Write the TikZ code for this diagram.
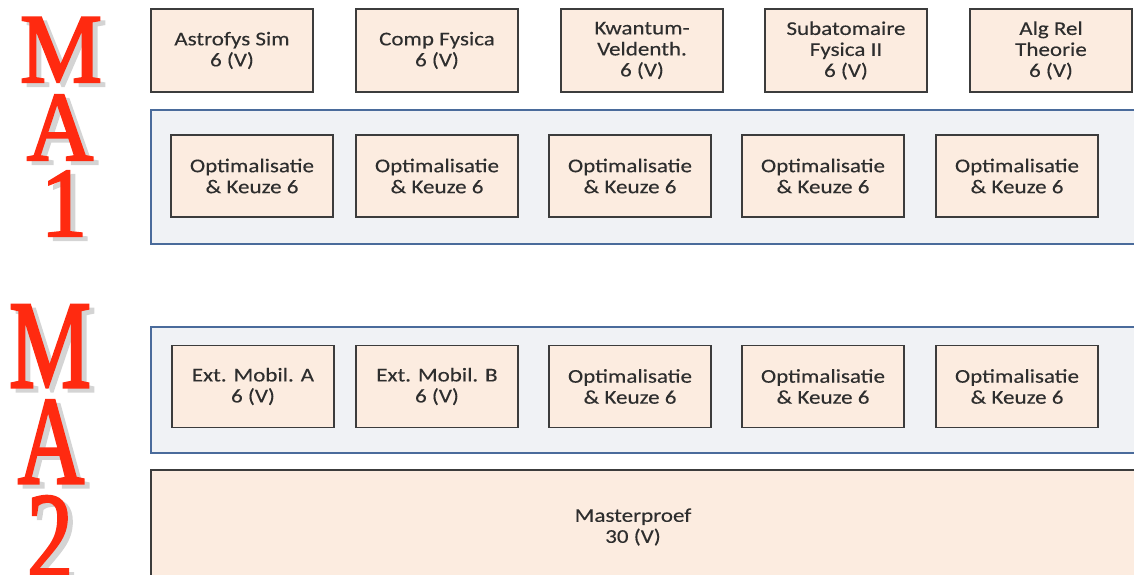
\documentclass[tikz,border=0pt]{standalone}
\usepackage{fontspec}
\setmainfont{Carlito}[FakeStretch=1.18,FakeBold=0.25]
\newfontfamily\bigserif{Liberation Serif}
\definecolor{boxfill}{HTML}{FCECE0}
\definecolor{boxline}{HTML}{3C3C3C}
\definecolor{contline}{HTML}{4A6B9B}
\definecolor{contfill}{HTML}{F0F2F5}
\definecolor{letred}{HTML}{FF2A10}
\definecolor{letshadow}{HTML}{D4D4D4}
\newcommand{\thickglyph}[2]{\special{pdf:literal direct 2 Tr 2.2 w}\scalebox{1}[#1]{#2}\special{pdf:literal direct 0 Tr}}
\begin{document}
\begin{tikzpicture}[x=1pt,y=-1pt,
  course/.style={draw=boxline,line width=1.3pt,fill=boxfill,minimum width=162pt,minimum height=82pt,
    inner sep=0pt,align=center,font=\fontsize{19.5}{21}\selectfont,text=black!82},
  container/.style={draw=contline,line width=2.4pt,fill=contfill},
  bigred/.style={inner sep=0pt,anchor=base,text=letred,font=\bigserif\fontsize{92}{92}\selectfont},
  bigshadow/.style={inner sep=0pt,anchor=base,text=letshadow,font=\bigserif\fontsize{92}{92}\selectfont}]
\useasboundingbox (0,0) rectangle (1134,575);
\begin{scope}
\clip (0,0) rectangle (1134,575);
% containers
\draw[container] (151,110) rectangle (1145,244);
\draw[container] (151,327) rectangle (1145,453);
% top row
\node[course,minimum height=83pt] (a1) at (232,50.5) {Astrofys Sim\\6 (V)};
\node[course,minimum height=83pt] (a2) at (437,50.5) {Comp Fysica\\6 (V)};
\node[course,minimum height=83pt] (a3) at (642,50.5) {Kwantum-\\Veldenth.\\6 (V)};
\node[course,minimum height=83pt] (a4) at (846,50.5) {Subatomaire\\Fysica II\\6 (V)};
\node[course,minimum height=83pt] (a5) at (1051,50.5) {Alg Rel\\Theorie\\6 (V)};
% MA1 options
\node[course] (b1) at (252,176) {Optimalisatie\\\& Keuze 6};
\node[course] (b2) at (437,176) {Optimalisatie\\\& Keuze 6};
\node[course] (b3) at (630,176) {Optimalisatie\\\& Keuze 6};
\node[course] (b4) at (823,176) {Optimalisatie\\\& Keuze 6};
\node[course] (b5) at (1017,176) {Optimalisatie\\\& Keuze 6};
% MA2 options
\node[course] (c1) at (253,386.5) {Ext. Mobil. A\\6 (V)};
\node[course] (c2) at (437,386.5) {Ext. Mobil. B\\6 (V)};
\node[course] (c3) at (630,386.5) {Optimalisatie\\\& Keuze 6};
\node[course] (c4) at (823,386.5) {Optimalisatie\\\& Keuze 6};
\node[course] (c5) at (1017,386.5) {Optimalisatie\\\& Keuze 6};
% Masterproef
\draw[draw=boxline,line width=1.3pt,fill=boxfill] (151,470) rectangle (1145,590);
\node[align=center,font=\fontsize{19.5}{21}\selectfont,text=black!82] (mp) at (633,527) {Masterproef\\30 (V)};
% big letters MA1
\node[bigshadow] (s1) at (66,86) {\thickglyph{1.07}{M}};
\node[bigred] (l1) at (61,82) {\thickglyph{1.07}{M}};
\node[bigshadow] (s2) at (65,164) {\thickglyph{1.07}{A}};
\node[bigred] (l2) at (60,160) {\thickglyph{1.07}{A}};
\node[bigshadow] (s3) at (69,240) {\thickglyph{1.07}{1}};
\node[bigred] (l3) at (64,236) {\thickglyph{1.07}{1}};
% big letters MA2
\node[bigshadow] (s4) at (55,391) {\thickglyph{1.36}{M}};
\node[bigred] (l4) at (50,387) {\thickglyph{1.36}{M}};
\node[bigshadow] (s5) at (56,487) {\thickglyph{1.36}{A}};
\node[bigred] (l5) at (51,483) {\thickglyph{1.36}{A}};
\node[bigshadow] (s6) at (55,583) {\thickglyph{1.36}{2}};
\node[bigred] (l6) at (50,579) {\thickglyph{1.36}{2}};
\end{scope}
\end{tikzpicture}
\end{document}
